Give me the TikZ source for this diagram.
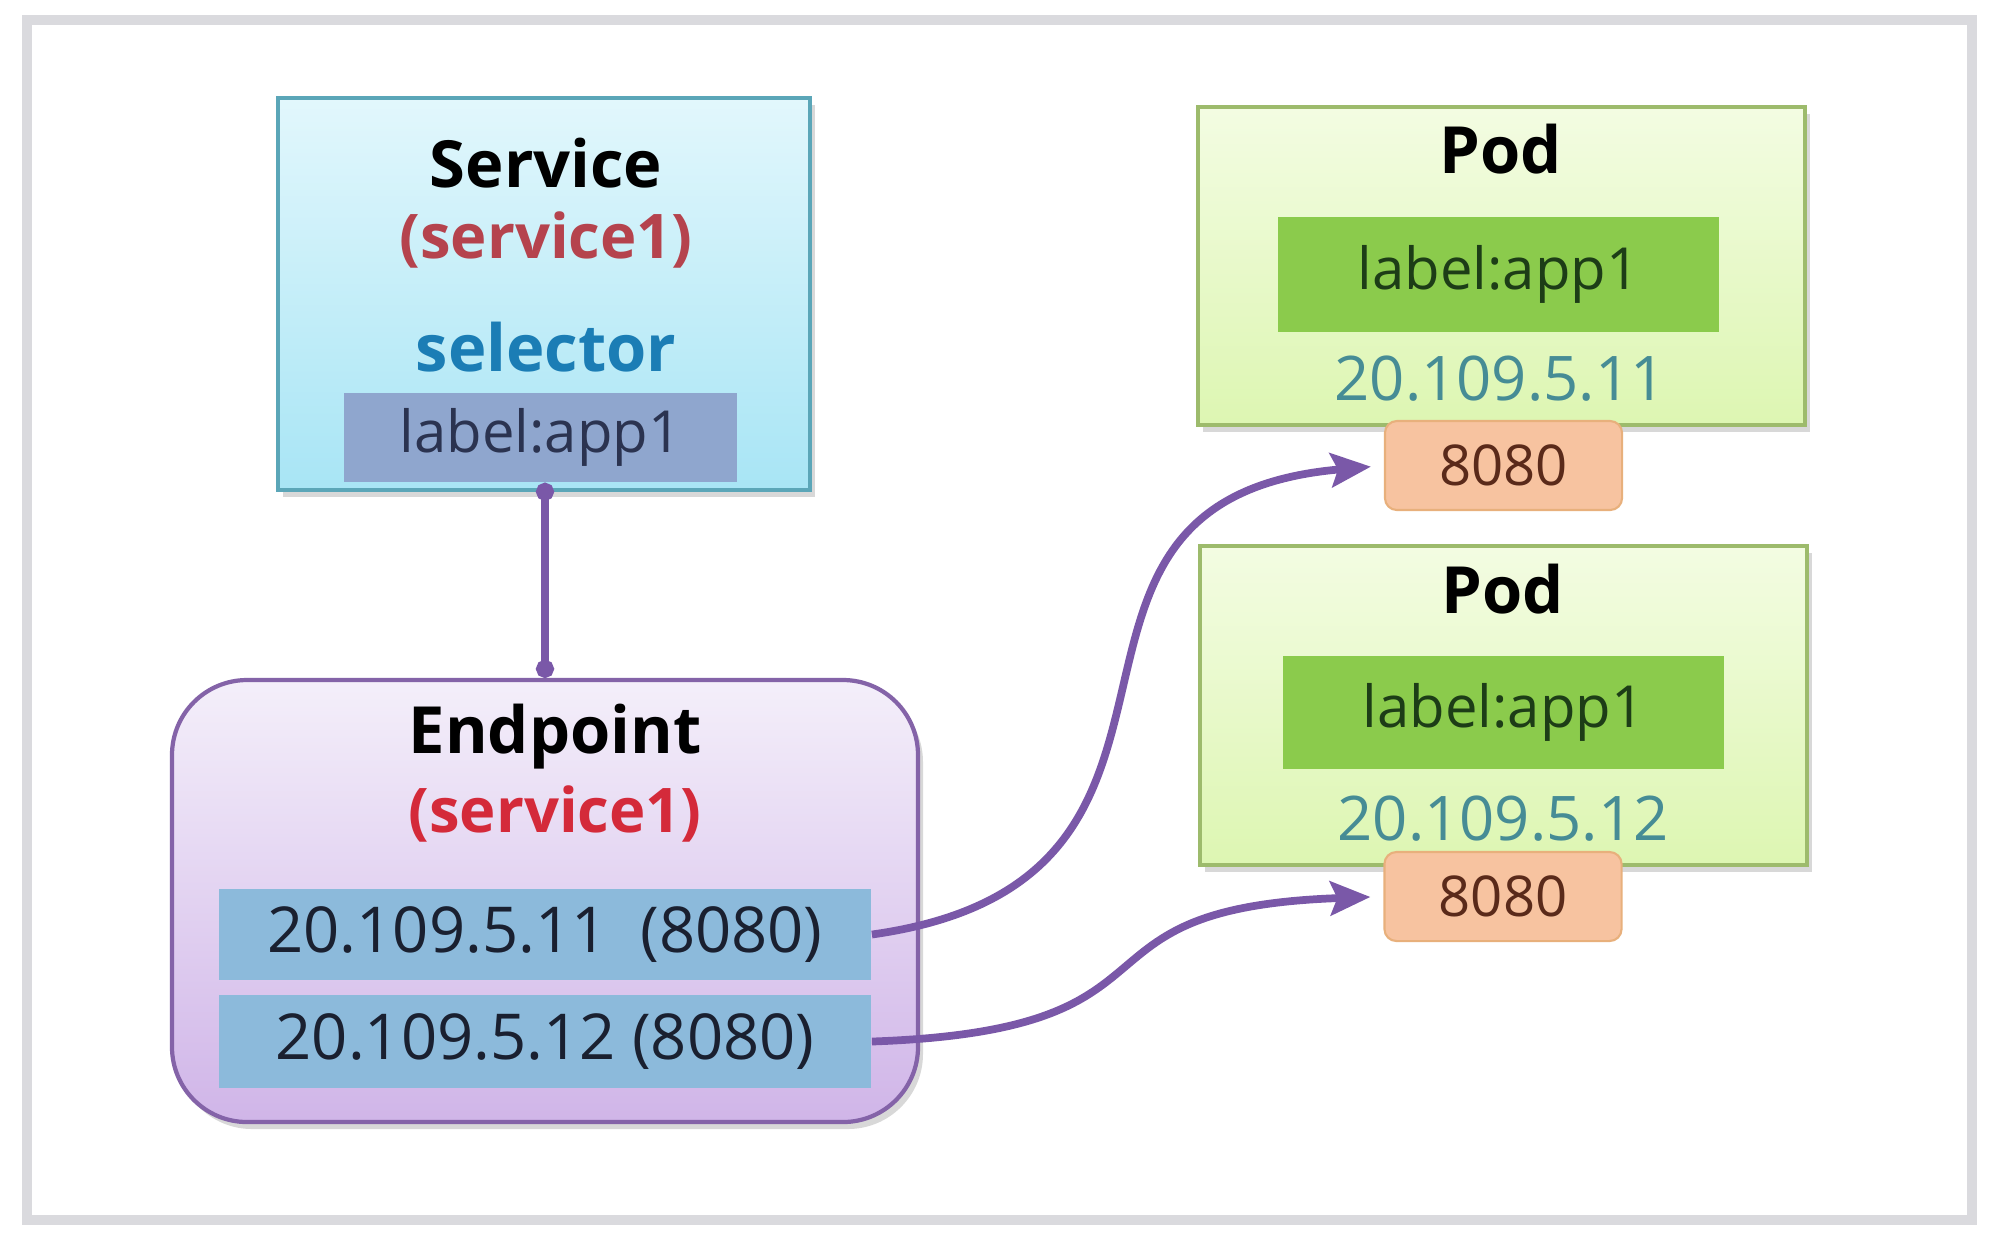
\documentclass[tikz,border=0pt]{standalone}
\usepackage{fontspec}
\setmainfont{Open Sans}
\usetikzlibrary{fit,arrows.meta,shadows}
\definecolor{framec}{HTML}{DADADE}
\definecolor{svctop}{HTML}{E2F7FC}
\definecolor{svcbot}{HTML}{A8E5F5}
\definecolor{svcline}{HTML}{5BA6B8}
\definecolor{selfill}{HTML}{8FA6CE}
\definecolor{seltext}{HTML}{2B3350}
\definecolor{redA}{HTML}{B5434D}
\definecolor{redB}{HTML}{D42A3A}
\definecolor{selblue}{HTML}{1B7DB5}
\definecolor{eptop}{HTML}{F4EFFA}
\definecolor{epbot}{HTML}{D0B5E8}
\definecolor{epline}{HTML}{8463A8}
\definecolor{rowfill}{HTML}{8CBADB}
\definecolor{rowtext}{HTML}{1A2030}
\definecolor{podtop}{HTML}{F3FCE2}
\definecolor{podbot}{HTML}{DDF6B2}
\definecolor{podline}{HTML}{9DBB6C}
\definecolor{labfill}{HTML}{8BCB4C}
\definecolor{labtext}{HTML}{1D3D17}
\definecolor{iptext}{HTML}{468C95}
\definecolor{portfill}{HTML}{F7C3A0}
\definecolor{portline}{HTML}{E8B07C}
\definecolor{porttext}{HTML}{5A2A1A}
\definecolor{connc}{HTML}{7A58A8}
\begin{document}
\begin{tikzpicture}[x=0.01cm,y=-0.01cm,
  shad/.style={drop shadow={opacity=0.3,shadow xshift=0.05cm,shadow yshift=-0.07cm}},
  svcbox/.style={draw=svcline,line width=1.2pt,top color=svctop,bottom color=svcbot,inner sep=0pt,shad},
  epbox/.style={draw=epline,line width=1.2pt,top color=eptop,bottom color=epbot,inner sep=0pt,rounded corners=0.75cm,shad},
  podbox/.style={draw=podline,line width=1.2pt,top color=podtop,bottom color=podbot,inner sep=0pt,shad},
  title/.style={font=\fontsize{18.5pt}{20pt}\selectfont\bfseries,text=black,inner sep=0pt},
  subt/.style={font=\fontsize{17.5pt}{20pt}\selectfont\bfseries,inner sep=0pt},
  selbox/.style={fill=selfill,text=seltext,font=\fontsize{16.5pt}{20pt}\selectfont,inner sep=0pt,minimum width=3.93cm,minimum height=0.89cm},
  rowbox/.style={fill=rowfill,text=rowtext,font=\fontsize{18pt}{20pt}\selectfont,inner sep=0pt,minimum width=6.52cm,minimum height=0.91cm},
  labbox/.style={fill=labfill,text=labtext,font=\fontsize{16.5pt}{20pt}\selectfont,inner sep=0pt,minimum width=4.41cm,minimum height=1.14cm},
  iptxt/.style={text=iptext,font=\fontsize{17.5pt}{20pt}\selectfont,inner sep=0pt},
  portbox/.style={draw=portline,line width=0.6pt,fill=portfill,text=porttext,font=\fontsize{16pt}{20pt}\selectfont,inner sep=0pt,minimum width=2.37cm,minimum height=0.89cm,rounded corners=0.12cm},
  conn/.style={draw=connc,line width=2.2pt},
  arr/.style={conn,-{Stealth[length=0.4cm,width=0.34cm,inset=0.07cm]},shorten >=0.13cm}
]
\useasboundingbox (0,0) rectangle (2000,1256);
\fill[white] (0,0) rectangle (2000,1256);
\draw[framec,line width=2.8pt] (27,20) rectangle (1972,1220);

% Service
\node[svcbox,fit={(278,98) (810,490)}] (svc) {};
\node[title] (svct) at (546,163) {Service};
\node[subt,text=redA] (svcn) at (546,240) {(service1)};
\node[subt,font=\fontsize{18.5pt}{20pt}\selectfont\bfseries,text=selblue] (sel) at (546,347) {selector};
\node[selbox] (svclab) at (540.5,437.5) {label:app1};

% Endpoint
\node[epbox,fit={(172,680) (918,1122)}] (ep) {};
\node[title] (ept) at (555,737) {Endpoint};
\node[subt,text=redB] (epn) at (555,814) {(service1)};
\node[rowbox] (row1) at (545,934.5) {20.109.5.11\ \ (8080)};
\node[rowbox,minimum height=0.93cm] (row2) at (545,1041.5) {20.109.5.12 (8080)};

% Pod 1
\node[podbox,fit={(1198,107) (1805,425)}] (pod1) {};
\node[title] (pod1t) at (1501,149) {Pod};
\node[labbox] (lab1) at (1498.5,274.5) {label:app1};
\node[iptxt] (ip1) at (1500,379) {20.109.5.11};
\node[portbox] (port1) at (1503.5,465.5) {8080};

% Pod 2
\node[podbox,fit={(1200,546) (1807,865)}] (pod2) {};
\node[title] (pod2t) at (1503,589) {Pod};
\node[labbox,minimum height=1.13cm] (lab2) at (1503.5,712.5) {label:app1};
\node[iptxt] (ip2) at (1503,819) {20.109.5.12};
\node[portbox] (port2) at (1503,896.5) {8080};

% connectors
\draw[conn,{Circle[length=0.18cm]}-{Circle[length=0.18cm]}] (svclab.south -| ep.north) -- (ep.north);
\draw[arr] (row1.east) to[out=8,in=185,looseness=1.45] (port1.west);
\draw[arr] (row2.east) to[out=2,in=182,looseness=1.6] (port2.west);
\end{tikzpicture}
\end{document}
